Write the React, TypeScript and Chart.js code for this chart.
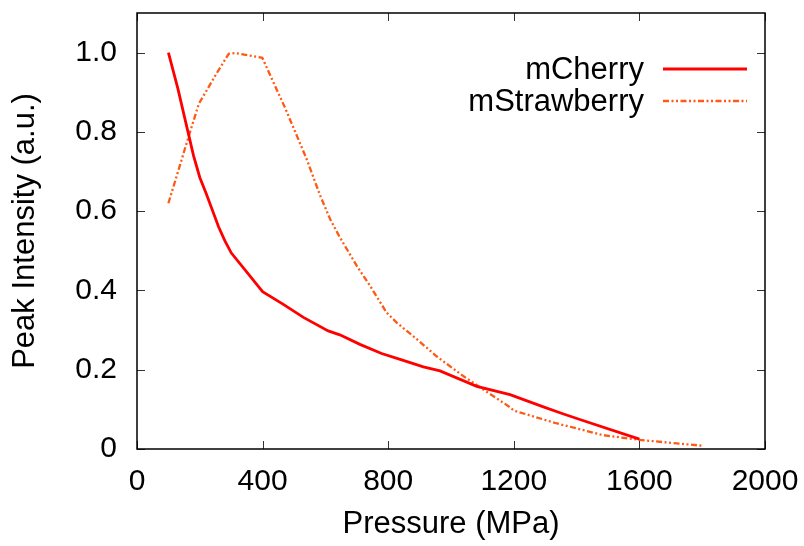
import React, { useEffect, useRef } from "react";
import { Chart, registerables } from "chart.js";

Chart.register(...registerables);

// ---- data ----
const cherryPressure = [100, 130, 180, 200, 220, 260, 280, 300, 400, 466, 530, 609, 646, 710, 779, 838, 912, 965, 1082, 1188, 1292, 1356, 1420, 1600];
const cherryIntensity = [1.0, 0.91, 0.74, 0.685, 0.645, 0.56, 0.525, 0.495, 0.397, 0.365, 0.332, 0.298, 0.288, 0.264, 0.241, 0.226, 0.207, 0.197, 0.158, 0.137, 0.107, 0.089, 0.072, 0.025];

const strawPressure = [100, 133, 165, 197, 250, 292, 314, 399, 473, 540, 583, 615, 646, 700, 742, 795, 827, 891, 954, 1039, 1103, 1183, 1200, 1335, 1484, 1600, 1803];
const strawIntensity = [0.62, 0.706, 0.79, 0.871, 0.943, 0.997, 0.999, 0.987, 0.858, 0.732, 0.64, 0.58, 0.534, 0.462, 0.412, 0.344, 0.319, 0.277, 0.234, 0.184, 0.15, 0.108, 0.097, 0.065, 0.035, 0.023, 0.008];

const xTickValues = [0, 400, 800, 1200, 1600, 2000];
const yTickValues = [0, 0.2, 0.4, 0.6, 0.8, 1.0];

const seriesLabels = ["mCherry", "mStrawberry"];
const xTitle = "Pressure (MPa)";
const yTitle = "Peak Intensity (a.u.)";

const FONT = "'Liberation Sans', Arial, Helvetica, sans-serif";

const framePlugin = {
  id: "gnuplotFrame",
  afterDraw(chart: any) {
    const { ctx, chartArea } = chart;
    const { left, right, top, bottom } = chartArea;
    const xs = chart.scales.x;
    const ys = chart.scales.y;
    ctx.save();
    // inward ticks
    ctx.strokeStyle = "#333";
    ctx.lineWidth = 1;
    const tl = 8;
    ctx.beginPath();
    for (const v of xTickValues) {
      const px = Math.round(xs.getPixelForValue(v)) + 0.5;
      ctx.moveTo(px, bottom);
      ctx.lineTo(px, bottom - tl);
      ctx.moveTo(px, top);
      ctx.lineTo(px, top + tl);
    }
    for (const v of yTickValues) {
      const py = Math.round(ys.getPixelForValue(v)) + 0.5;
      ctx.moveTo(left, py);
      ctx.lineTo(left + tl, py);
      ctx.moveTo(right, py);
      ctx.lineTo(right - tl, py);
    }
    ctx.stroke();
    // frame
    ctx.strokeStyle = "#000";
    ctx.lineWidth = 1.5;
    ctx.strokeRect(left, top, right - left, bottom - top);

    // legend
    const textRight = 644;
    const lineStart = 663;
    const lineEnd = 747;
    const rowY = [69, 101];
    ctx.font = `31px ${FONT}`;
    ctx.textAlign = "right";
    ctx.textBaseline = "middle";
    chart.data.datasets.forEach((ds: any, i: number) => {
      const y = rowY[i];
      ctx.fillStyle = "#000";
      ctx.fillText(ds.label, textRight, y + 1);
      ctx.strokeStyle = ds.borderColor;
      ctx.lineWidth = ds.borderWidth;
      ctx.setLineDash(ds.borderDash || []);
      ctx.beginPath();
      ctx.moveTo(lineStart, y);
      ctx.lineTo(lineEnd, y);
      ctx.stroke();
      ctx.setLineDash([]);
    });
    ctx.restore();
  },
};

const zeroPadding = (s: any) => {
  s.paddingTop = 0;
  s.paddingBottom = 0;
  s.paddingLeft = 0;
  s.paddingRight = 0;
};

export default function App() {
  const ref = useRef<HTMLCanvasElement>(null);
  useEffect(() => {
    document.body.style.margin = "0";
    const canvas = ref.current;
    if (!canvas) return;
    const chart = new Chart(canvas, {
      type: "line",
      data: {
        datasets: [
          {
            label: seriesLabels[0],
            data: cherryPressure.map((x, i) => ({ x, y: cherryIntensity[i] })),
            borderColor: "#ff0000",
            borderWidth: 2.8,
            pointRadius: 0,
            tension: 0,
            fill: false,
          },
          {
            label: seriesLabels[1],
            data: strawPressure.map((x, i) => ({ x, y: strawIntensity[i] })),
            borderColor: "#ff5a14",
            borderWidth: 2.3,
            borderDash: [6, 2.5, 2, 2.5, 2, 2.5],
            pointRadius: 0,
            tension: 0,
            fill: false,
          },
        ],
      },
      options: {
        animation: false,
        responsive: false,
        devicePixelRatio: 1,
        layout: { padding: { top: 13, right: 39, left: 0, bottom: 0 } },
        plugins: {
          legend: { display: false },
          tooltip: { enabled: false },
        },
        scales: {
          x: {
            type: "linear",
            min: 0,
            max: 2000,
            grid: { display: false, drawTicks: false },
            border: { display: false },
            afterBuildTicks: (s: any) => {
              s.ticks = xTickValues.map((v) => ({ value: v }));
            },
            afterFit: (s: any) => {
              s.height = 97;
              zeroPadding(s);
            },
            ticks: {
              padding: 15,
              color: "#000",
              font: { family: FONT, size: 30 },
              maxRotation: 0,
              callback: (v: any) => String(v),
            },
            title: {
              display: true,
              text: xTitle,
              color: "#000",
              font: { family: FONT, size: 31 },
              padding: { top: 0, bottom: 3 },
            },
          },
          y: {
            type: "linear",
            min: 0,
            max: 1.1,
            grid: { display: false, drawTicks: false },
            border: { display: false },
            afterBuildTicks: (s: any) => {
              s.ticks = yTickValues.map((v) => ({ value: v }));
            },
            afterFit: (s: any) => {
              s.width = 137;
              zeroPadding(s);
            },
            ticks: {
              padding: 20,
              color: "#000",
              font: { family: FONT, size: 30 },
              callback: (v: any) => (Number(v) === 0 ? "0" : Number(v).toFixed(1)),
            },
            title: {
              display: true,
              text: yTitle,
              color: "#000",
              font: { family: FONT, size: 31 },
              padding: { top: 7, bottom: 0 },
            },
          },
        },
      },
      plugins: [framePlugin],
    });
    return () => chart.destroy();
  }, []);
  return (
    <div style={{ position: "absolute", left: 0, top: 0, width: 804, height: 546, background: "#fff" }}>
      <canvas ref={ref} width={804} height={546} />
    </div>
  );
}
